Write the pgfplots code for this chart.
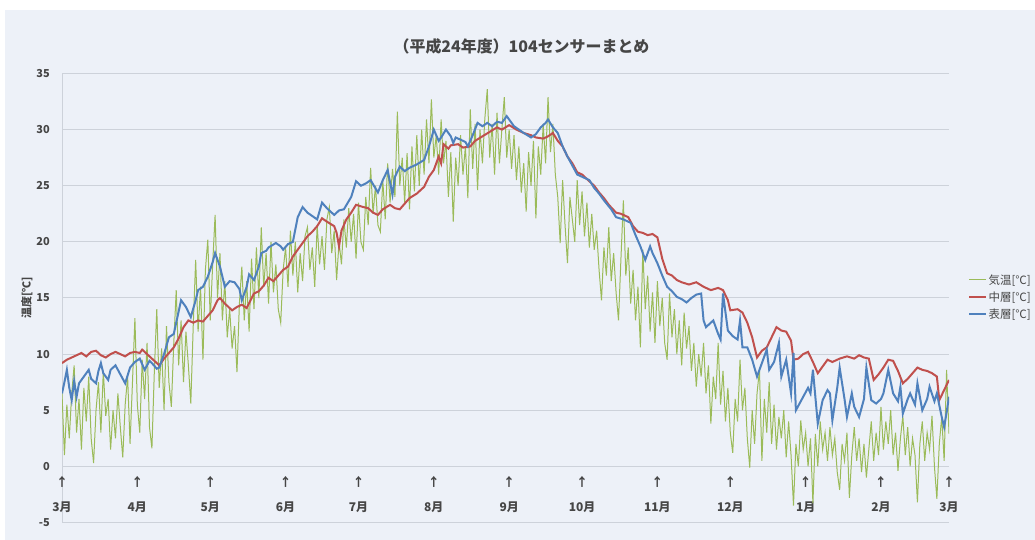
\documentclass[border=0pt]{standalone}
\usepackage{pgfplots}
\pgfplotsset{compat=1.18}
\usepackage{fontspec}
\setmainfont{Noto Sans CJK JP}

\definecolor{bgc}{RGB}{237,241,248}
\definecolor{gridc}{RGB}{205,210,218}
\definecolor{airg}{RGB}{155,187,89}
\definecolor{midr}{RGB}{192,80,77}
\definecolor{surfb}{RGB}{79,129,189}
\definecolor{txt}{RGB}{70,70,70}

\begin{document}
\begin{tikzpicture}[x=1bp,y=1bp]
\fill[white] (0,0) rectangle (1035,540);
\fill[bgc] (5,0) rectangle (1035,530);
\begin{axis}[
  at={(62bp,17.5bp)}, anchor=south west,
  scale only axis, width=887bp, height=449bp,
  xmin=0, xmax=365, ymin=-5, ymax=35,
  axis y line*=left, axis x line*=bottom,
  y axis line style={draw=gridc, line width=1bp},
  x axis line style={draw=none},
  ytick={-5,0,...,35},
  ymajorgrids, grid style={draw=gridc, line width=1bp},
  major tick length=0pt,
  /pgf/number format/assume math mode=true,
  yticklabel style={font=\fontsize{11}{13}\selectfont\bfseries, text=txt, anchor=east, inner sep=0pt, xshift=-12bp},
  xtick={0,31,61,92,122,153,184,214,245,275,306,337,365},
  xticklabels={↑\\3月,↑\\4月,↑\\5月,↑\\6月,↑\\7月,↑\\8月,↑\\9月,↑\\10月,↑\\11月,↑\\12月,↑\\1月,↑\\2月,↑\\3月},
  xticklabel style={font=\fontsize{12}{26}\selectfont\bfseries, text=txt, align=center, anchor=center, inner sep=0pt, yshift=28bp},
  ylabel={温度[℃]},
  ylabel style={at={(axis description cs:-0.0395,0.5)}, anchor=center, font=\fontsize{11}{13}\selectfont\bfseries, text=txt},
  title={（平成24年度）104センサーまとめ},
  title style={at={(axis description cs:0.5,1)}, anchor=center, yshift=21bp, xshift=16bp, font=\fontsize{16}{18}\selectfont\bfseries, text=txt},
  legend style={at={(axis description cs:1.0214,0.502)}, anchor=west, draw=none, fill=none, font=\fontsize{11.5}{13}\selectfont, text=txt, inner sep=0pt, row sep=3bp, nodes={inner sep=1.5bp}},
  legend cell align=left,
  legend image code/.code={\draw[#1] (0bp,0bp) -- (17bp,0bp);},
]
% air temperature, daily
\addplot[airg, line width=1bp] coordinates {
(0,6.5)(1,1.0)(2,5.5)(3,2.5)(4,6.5)(5,9.0)(6,3.0)(7,6.0)(8,1.5)(9,7.0)(10,4.0)(11,8.0)(12,2.5)(13,0.3)(14,5.0)(15,7.5)(16,3.0)(17,8.5)(18,4.5)(19,6.0)(20,1.5)(21,5.0)(22,2.5)(23,6.5)(24,3.5)(25,0.8)(26,5.5)(27,8.0)(28,2.0)(29,7.5)(30,13.2)(31,5.5)
(32,3.0)(33,9.5)(34,6.0)(35,11.0)(36,3.5)(37,1.6)(38,8.5)(39,14.0)(40,7.0)(41,10.5)(42,5.0)(43,12.5)(44,7.5)(45,5.3)(46,11.0)(47,15.7)(48,9.0)(49,13.0)(50,7.5)(51,12.0)(52,9.0)(53,5.6)(54,12.5)(55,18.4)(56,12.0)(57,16.0)(58,9.5)(59,17.5)(60,20.2)(61,13.0)
(62,18.0)(63,22.4)(64,15.0)(65,19.0)(66,13.0)(67,16.5)(68,11.5)(69,14.0)(70,10.5)(71,12.5)(72,8.4)(73,14.5)(74,17.8)(75,13.0)(76,16.5)(77,12.0)(78,18.5)(79,14.0)(80,19.5)(81,15.0)(82,21.3)(83,16.0)(84,19.0)(85,14.5)(86,20.0)(87,15.5)(88,18.0)(89,14.0)(90,12.8)(91,17.5)
(92,19.5)(93,16.0)(94,21.0)(95,17.0)(96,20.0)(97,15.5)(98,19.0)(99,16.5)(100,20.5)(101,21.3)(102,17.5)(103,19.5)(104,16.0)(105,21.5)(106,18.0)(107,20.5)(108,17.5)(109,22.0)(110,23.1)(111,19.0)(112,21.0)(113,16.6)(114,20.0)(115,18.0)(116,22.0)(117,19.5)(118,23.0)(119,20.0)(120,22.5)(121,18.5)
(122,23.5)(123,20.0)(124,19.3)(125,24.0)(126,21.5)(127,26.6)(128,22.5)(129,25.0)(130,21.5)(131,20.9)(132,25.5)(133,22.0)(134,27.0)(135,23.5)(136,26.5)(137,24.0)(138,31.6)(139,25.0)(140,27.5)(141,23.5)(142,27.9)(143,22.9)(144,28.5)(145,24.5)(146,29.5)(147,25.0)(148,30.0)(149,26.0)(150,30.9)(151,27.0)(152,32.7)(153,27.5)
(154,29.5)(155,26.0)(156,30.9)(157,27.0)(158,29.0)(159,24.0)(160,28.0)(161,21.8)(162,27.5)(163,25.0)(164,29.5)(165,26.0)(166,28.5)(167,23.9)(168,31.8)(169,26.5)(170,30.5)(171,24.6)(172,30.0)(173,27.0)(174,31.0)(175,33.6)(176,27.5)(177,30.5)(178,26.0)(179,31.5)(180,27.0)(181,30.0)(182,32.9)(183,27.5)
(184,30.0)(185,26.5)(186,29.5)(187,25.5)(188,28.5)(189,24.4)(190,27.0)(191,22.7)(192,28.0)(193,25.0)(194,29.0)(195,22.1)(196,28.5)(197,26.0)(198,30.5)(199,27.0)(200,32.9)(201,28.0)(202,30.5)(203,26.0)(204,24.0)(205,19.9)(206,25.5)(207,21.5)(208,18.1)(209,24.0)(210,22.0)(211,20.0)(212,25.5)(213,21.5)
(214,24.5)(215,20.5)(216,23.5)(217,19.5)(218,22.5)(219,19.3)(220,21.0)(221,17.5)(222,14.8)(223,19.5)(224,17.0)(225,21.3)(226,16.5)(227,19.0)(228,15.5)(229,13.0)(230,18.5)(231,23.7)(232,17.0)(233,19.5)(234,14.5)(235,17.5)(236,13.0)(237,16.0)(238,10.6)(239,19.3)(240,14.0)(241,17.0)(242,12.0)(243,15.5)(244,11.0)
(245,16.5)(246,12.5)(247,15.0)(248,11.0)(249,9.5)(250,15.4)(251,11.5)(252,14.0)(253,10.0)(254,13.0)(255,9.0)(256,13.7)(257,10.5)(258,12.5)(259,8.5)(260,11.0)(261,7.1)(262,10.0)(263,8.0)(264,11.0)(265,6.5)(266,9.0)(267,3.8)(268,8.0)(269,6.0)(270,11.0)(271,5.5)(272,8.5)(273,4.0)(274,7.0)(275,3.0)
(276,1.2)(277,6.0)(278,4.0)(279,9.5)(280,5.0)(281,7.0)(282,2.5)(283,-0.1)(284,5.0)(285,2.0)(286,6.5)(287,8.6)(288,0.5)(289,6.0)(290,3.0)(291,7.5)(292,2.0)(293,5.5)(294,1.5)(295,4.4)(296,2.5)(297,5.0)(298,0.8)(299,4.0)(300,1.0)(301,-3.5)(302,2.0)(303,0.0)(304,4.1)(305,1.5)
(306,3.0)(307,0.0)(308,2.5)(309,-3.3)(310,2.9)(311,0.0)(312,4.0)(313,1.5)(314,3.0)(315,0.5)(316,3.5)(317,1.0)(318,2.5)(319,-0.5)(320,-2.1)(321,2.0)(322,0.5)(323,3.0)(324,-2.8)(325,1.0)(326,3.5)(327,0.5)(328,2.5)(329,-0.5)(330,2.0)(331,-1.0)(332,1.5)(333,4.0)(334,0.5)(335,3.0)(336,1.0)
(337,5.3)(338,1.5)(339,4.0)(340,2.0)(341,5.0)(342,1.0)(343,3.0)(344,-0.4)(345,2.5)(346,4.5)(347,1.0)(348,3.5)(349,0.0)(350,2.5)(351,1.0)(352,-3.2)(353,2.0)(354,4.0)(355,0.5)(356,3.0)(357,1.5)(358,4.5)(359,0.0)(360,-2.9)(361,2.0)(362,4.4)(363,0.5)(364,8.6)(365,2.9)
};
\addlegendentry{気温[℃]}
% middle layer
\addplot[midr, line width=2bp] coordinates {
(0,9.2)(2,9.5)(4,9.7)(6,9.9)(8,10.1)(10,9.8)(12,10.2)(14,10.3)(16,9.9)(18,9.7)(20,10.0)(22,10.2)(24,10.0)(26,9.8)(28,10.1)(30,10.2)(32,10.1)(33,10.4)(35,10.0)(37,9.6)(40,9.0)(42,9.6)(44,10.1)(46,10.6)(48,11.4)(50,12.4)(52,13.0)(54,12.8)(56,13.0)(58,12.9)(60,13.4)(62,13.9)(64,14.8)(65,15.0)(67,14.5)(70,13.9)(72,14.2)(74,14.4)(76,14.1)(79,15.4)(81,15.6)(83,16.1)(85,16.8)(87,16.5)(89,17.0)(91,17.5)(93,17.8)(95,18.7)(97,19.3)(100,20.2)(101,20.5)(103,20.9)(105,21.4)(107,22.1)(109,21.8)(112,21.4)(113,20.8)(114,19.6)(115,21.0)(117,22.0)(119,22.6)(121,23.3)(124,23.1)(126,23.0)(128,22.6)(130,22.4)(132,22.9)(135,23.3)(137,23.0)(139,22.9)(141,23.4)(143,23.9)(146,24.3)(149,24.9)(151,25.8)(153,26.4)(155,27.6)(156,27.0)(157,28.7)(159,28.3)(160,28.6)(163,28.7)(165,28.4)(168,28.5)(170,29.0)(173,29.4)(176,29.8)(179,30.2)(181,30.0)(184,30.4)(187,30.0)(190,29.7)(193,29.5)(195,29.3)(198,29.2)(200,29.4)(202,29.7)(204,29.0)(206,28.5)(208,27.6)(210,27.0)(212,26.2)(214,26.0)(217,25.4)(219,25.0)(221,24.4)(223,23.9)(225,23.3)(228,22.6)(230,22.5)(233,22.2)(235,21.4)(237,20.9)(239,20.8)(241,20.6)(243,20.7)(245,20.4)(247,18.5)(249,17.2)(251,17.0)(253,16.6)(255,16.4)(258,16.2)(261,16.4)(264,16.0)(267,15.7)(270,15.9)(272,15.7)(274,14.8)(275,13.9)(278,14.0)(280,13.7)(282,12.8)(284,11.5)(286,9.7)(288,10.3)(290,10.6)(292,11.5)(294,12.4)(296,12.1)(298,12.0)(300,11.2)(301,9.5)(303,9.6)(305,10.0)(307,10.2)(309,9.3)(311,8.3)(313,8.9)(315,9.5)(317,9.3)(320,9.6)(323,9.8)(326,9.6)(328,9.9)(330,9.7)(332,9.6)(334,7.7)(336,8.2)(338,8.8)(340,9.5)(342,9.4)(344,8.5)(346,7.4)(348,7.8)(350,8.3)(352,8.8)(354,8.6)(356,8.5)(358,8.3)(360,8.0)(361,5.9)(363,6.8)(365,7.7)
};
\addlegendentry{中層[℃]}
% surface layer
\addplot[surfb, line width=2bp] coordinates {
(0,6.5)(1,7.5)(2,8.6)(3,7.0)(4,5.9)(5,7.6)(6,6.2)(7,7.4)(9,8.0)(11,8.6)(12,7.8)(14,7.4)(15,8.5)(16,9.2)(17,8.3)(19,7.7)(20,8.6)(22,9.0)(24,8.2)(26,7.4)(28,8.8)(30,9.3)(32,9.6)(34,8.6)(36,9.4)(37,9.2)(39,8.7)(40,8.8)(42,10.0)(44,11.5)(46,11.8)(47,12.8)(49,14.8)(51,14.2)(53,13.3)(55,14.8)(56,15.7)(58,16.0)(60,16.9)(62,18.2)(63,19.0)(65,17.8)(67,16.0)(69,16.5)(71,16.4)(73,15.8)(74,14.8)(76,16.0)(77,17.1)(79,16.6)(81,17.8)(82,19.0)(84,19.2)(85,19.5)(88,19.9)(90,19.6)(91,19.3)(93,19.8)(95,20.0)(97,22.2)(99,23.1)(101,22.6)(103,22.3)(105,22.0)(107,23.5)(109,23.0)(112,22.4)(114,22.8)(116,22.9)(119,24.0)(121,25.4)(123,25.0)(125,25.2)(127,25.5)(130,24.4)(132,25.5)(134,26.4)(136,24.2)(137,25.8)(139,26.7)(141,26.3)(143,26.6)(146,26.9)(149,27.3)(151,28.5)(153,30.0)(155,29.0)(156,29.3)(158,30.0)(160,29.4)(161,28.8)(162,29.3)(164,29.1)(166,28.9)(167,28.5)(169,29.5)(171,30.6)(173,30.3)(175,30.6)(177,30.3)(179,30.7)(181,30.6)(183,31.2)(186,30.3)(188,30.0)(190,29.7)(193,29.3)(195,29.6)(197,30.2)(199,30.6)(200,30.9)(202,30.2)(204,29.7)(206,28.5)(208,27.6)(210,26.8)(212,26.0)(214,25.8)(217,25.5)(219,24.8)(221,24.3)(223,23.7)(226,22.9)(228,22.2)(231,22.0)(234,21.7)(236,20.6)(238,19.6)(240,18.4)(242,19.6)(243,19.0)(245,18.1)(247,17.0)(249,16.0)(251,15.6)(253,15.1)(255,14.9)(257,14.6)(259,15.0)(261,15.3)(263,15.4)(264,13.0)(265,12.4)(267,12.8)(268,13.0)(270,11.8)(271,11.3)(272,15.4)(274,12.1)(276,11.6)(278,11.3)(279,13.0)(280,10.6)(282,10.6)(284,9.5)(286,8.0)(288,9.2)(290,10.4)(291,8.6)(293,9.3)(295,11.0)(296,8.0)(298,9.5)(300,6.5)(301,10.1)(302,5.0)(304,5.8)(305,6.2)(307,7.0)(308,6.5)(309,8.6)(311,3.8)(313,5.9)(315,6.8)(316,6.5)(317,4.1)(319,7.0)(320,8.8)(322,6.0)(323,4.4)(325,6.5)(326,5.3)(328,4.4)(330,6.0)(331,8.8)(333,5.9)(335,5.6)(337,6.0)(338,6.5)(340,8.6)(342,6.5)(344,5.8)(345,7.1)(346,4.7)(348,6.0)(349,6.5)(351,5.5)(352,7.4)(354,5.0)(356,6.0)(357,7.1)(359,5.8)(360,6.5)(362,4.4)(363,3.5)(364,4.8)(365,6.2)
};
\addlegendentry{表層[℃]}
\end{axis}
\end{tikzpicture}
\end{document}
